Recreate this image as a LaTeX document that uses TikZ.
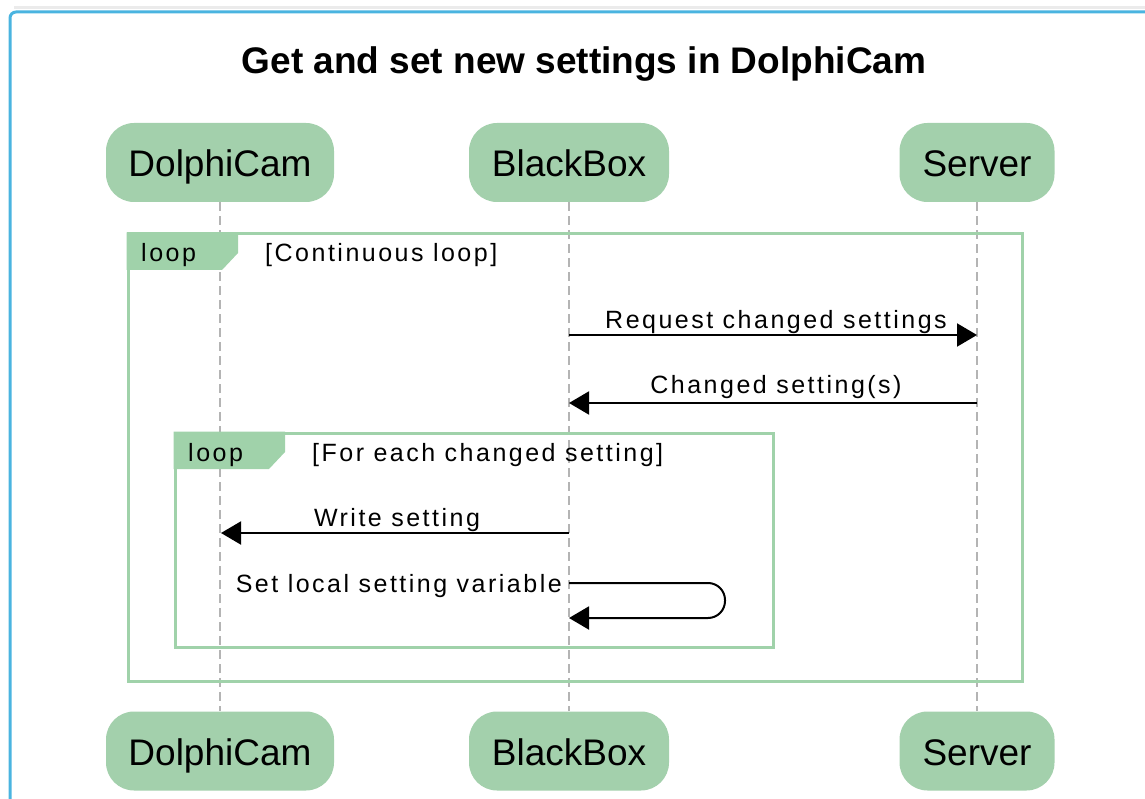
\documentclass[tikz,border=0pt]{standalone}
\usepackage{fontspec}
\setmainfont{Liberation Sans}
\newfontfamily\msgfont{Liberation Sans}[LetterSpace=10]
\usetikzlibrary{arrows.meta}
\definecolor{pgreen}{RGB}{163,208,172}
\definecolor{lgreen}{RGB}{160,210,170}
\definecolor{frameblue}{RGB}{74,180,224}
\definecolor{lifegrey}{RGB}{180,180,180}
\begin{document}
\begin{tikzpicture}[x=1pt,y=-1pt,
 part/.style={fill=pgreen, draw=none, rounded corners=28pt, minimum height=79pt, inner sep=0pt, text height=28pt, text depth=0pt, font=\fontsize{37}{44}\selectfont},
 msgtext/.style={font=\msgfont\fontsize{25}{30}\selectfont, anchor=base, inner sep=0pt},
 msg/.style={line width=2pt, -{Triangle[length=20pt,width=23pt]}},
 lifeline/.style={draw=lifegrey, line width=1.5pt, dash pattern=on 9pt off 5pt},
 loopframe/.style={draw=lgreen, line width=3pt},
 looptab/.style={fill=lgreen},
]
\useasboundingbox (0,0) rectangle (1145,799);
% window frame
\draw[black!8, line width=3pt] (14,8) -- (1160,8);
\draw[frameblue, line width=3pt, rounded corners=6pt] (10,830) -- (10,12) -- (1170,12);
% title
\node[font=\bfseries\fontsize{37}{44}\selectfont, anchor=base, inner sep=0pt] (title) at (584,74) {Get and set new settings in DolphiCam};
% participants
\node[part, minimum width=228pt] (dcTop) at (220,162.5) {DolphiCam};
\node[part, minimum width=200pt] (bbTop) at (569,162.5) {BlackBox};
\node[part, minimum width=155pt] (svTop) at (977,162.5) {Server};
\node[part, minimum width=228pt] (dcBot) at (220,751) {DolphiCam};
\node[part, minimum width=200pt] (bbBot) at (569,751) {BlackBox};
\node[part, minimum width=155pt] (svBot) at (977,751) {Server};
% lifelines
\draw[lifeline] (dcTop.south) -- (dcBot.north);
\draw[lifeline] (bbTop.south) -- (bbBot.north);
\draw[lifeline] (svTop.south) -- (svBot.north);
% outer loop
\draw[loopframe] (128,234) rectangle (1022,681);
\fill[looptab] (126.5,232.5) -- (238,232.5) -- (238,253) -- (222,270) -- (126.5,270) -- cycle;
\node[msgtext, anchor=base west] (outerLoop) at (141,262) {loop};
\node[msgtext, anchor=base west] (outerGuard) at (265,262) {[Continuous loop]};
% inner loop
\draw[loopframe] (175,433) rectangle (773,647);
\fill[looptab] (173.5,431.5) -- (285,431.5) -- (285,452) -- (269,469) -- (173.5,469) -- cycle;
\node[msgtext, anchor=base west] (innerLoop) at (188,461) {loop};
\node[msgtext, anchor=base west] (innerGuard) at (312,461) {[For each changed setting]};
% messages
\coordinate (bbA) at (569,335);
\coordinate (svA) at (977,335);
\draw[msg] (bbA) -- (svA);
\node[msgtext] (reqLbl) at (776,328) {Request changed settings};
\coordinate (svB) at (977,403);
\coordinate (bbB) at (569,403);
\draw[msg] (svB) -- (bbB);
\node[msgtext] (chgLbl) at (776,393) {Changed setting(s)};
\coordinate (bbC) at (569,533);
\coordinate (dcC) at (221,533);
\draw[msg] (bbC) -- (dcC);
\node[msgtext] (wrLbl) at (397,526) {Write setting};
\coordinate (bbD) at (569,583);
\coordinate (selfR1) at (725,583);
\coordinate (selfR2) at (725,618);
\coordinate (bbE) at (569,618);
\draw[msg, rounded corners=17pt] (bbD) -- (selfR1) -- (selfR2) -- (bbE);
\node[msgtext, anchor=base east] (setLbl) at (562,592) {Set local setting variable};
\end{tikzpicture}
\end{document}
